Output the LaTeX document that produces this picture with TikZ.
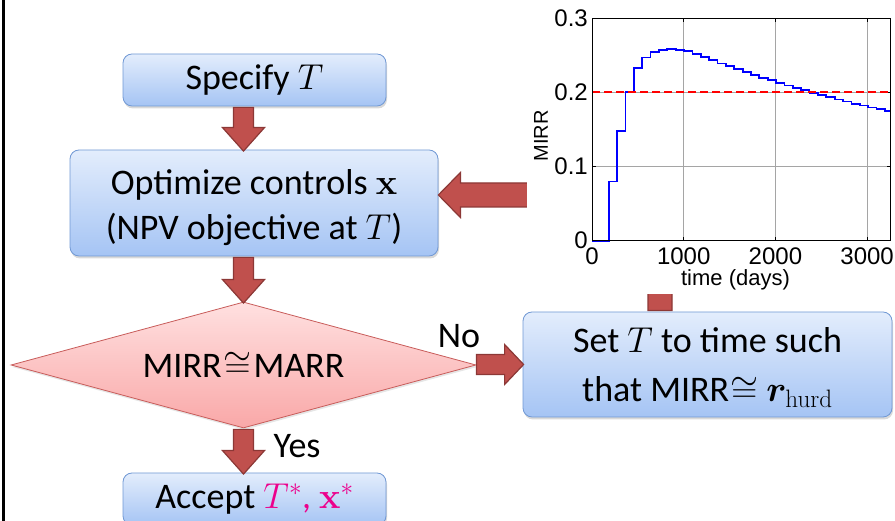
\RequirePackage{fix-cm}
\documentclass[tikz,border=0pt]{standalone}
\usepackage{amsmath,amssymb,bm}
\usepackage[no-math]{fontspec}
\setmainfont{Carlito}
\newfontfamily\plotfont{Liberation Sans}
\usetikzlibrary{shapes.geometric,shadows,calc}

\definecolor{boxtop}{RGB}{227,237,252}
\definecolor{boxbot}{RGB}{165,196,244}
\definecolor{boxline}{RGB}{112,152,212}
\definecolor{dtop}{RGB}{255,224,224}
\definecolor{dbot}{RGB}{249,168,168}
\definecolor{dline}{RGB}{200,92,90}
\definecolor{arrfill}{RGB}{192,80,77}
\definecolor{arrline}{RGB}{140,56,54}
\definecolor{gridgray}{RGB}{165,165,165}

\newcommand\vbarrow[3]{%
  \draw[blockarrow] let \p1=#1, \p2=#2, \p3=#3 in
    (\x3-10pt,\y1-1pt) -- (\x3-10pt,\y2+22pt) -- (\x3-21pt,\y2+22pt) --
    (\x3,\y2-1.5pt) -- (\x3+21pt,\y2+22pt) -- (\x3+10pt,\y2+22pt) --
    (\x3+10pt,\y1-1pt) -- cycle;}
\newcommand\twolines[3]{\raisebox{#1}[\height][\depth]{\begin{tabular}{@{}c@{}}#2\end{tabular}}}

\begin{document}
\begin{tikzpicture}[x=1pt,y=1pt,
  bigtext/.style={font=\fontsize{36}{45}\selectfont},
  flowbox/.style={bigtext, draw=boxline, line width=0.8pt, rounded corners=9pt,
    top color=boxtop, bottom color=boxbot, align=center, inner sep=0pt,
    drop shadow={opacity=0.3, shadow xshift=1pt, shadow yshift=-2.5pt}},
  decision/.style={bigtext, diamond, draw=dline, line width=0.8pt,
    top color=dtop, bottom color=dbot, inner sep=0pt, aspect=3.69,
    drop shadow={opacity=0.2, shadow xshift=1pt, shadow yshift=-2pt}},
  blockarrow/.style={fill=arrfill, draw=arrline, line width=1.2pt, line join=miter},
  lbl/.style={bigtext, inner sep=0pt},
  gridline/.style={draw=gridgray, line width=0.7pt},
  ticklbl/.style={font=\plotfont\fontsize{24}{28}\selectfont, inner sep=0pt},
]
\useasboundingbox (0,0) rectangle (895,521);

% left frame line
\draw[line width=3.3pt] (3.7,0) -- (3.7,521);

% flow nodes
\node[flowbox, minimum width=263, minimum height=52] (spec) at (254.5,441) {Specify $T$};
\node[flowbox, minimum width=368, minimum height=106] (opt) at (254,318)
  {\twolines{-5pt}{Optimize controls $\mathbf{x}$\\(NPV objective at $T$)}{}};
\node[decision, minimum width=465, minimum height=126] (dec) at (243.5,156) {MIRR\kern2pt$\cong$\kern2pt MARR};
\node[flowbox, minimum width=369, minimum height=105] (set) at (707.5,156.5)
  {\twolines{-4pt}{Set $T$ to time such\\[4pt]that MIRR\kern1pt$\cong$\ $\bm{r}_{\mathrm{hurd}}$}{}};
\node[flowbox, minimum width=263, minimum height=52] (acc) at (254.5,22)
  {Accept \textcolor{magenta}{$T^{*}$, $\mathbf{x}^{*}$}};

\node[lbl] (no) at (459,185) {No};
\node[lbl] (yes) at (297,75) {Yes};

% chart area corner
\coordinate (chartsw) at (527,227);

% vertical block arrows
\vbarrow{(spec.south)}{(opt.north)}{(dec.north)}
\vbarrow{(opt.south)}{(dec.north)}{(dec.north)}
\vbarrow{(dec.south)}{(acc.north)}{(dec.north)}

% No arrow (to the right)
\draw[blockarrow] let \p1=(dec.east), \p2=(set.west) in
  (\x1,\y2+10pt) -- (\x2-18pt,\y2+10pt) -- (\x2-18pt,\y2+20pt) -- (\x2+1pt,\y2) --
  (\x2-18pt,\y2-20pt) -- (\x2-18pt,\y2-10pt) -- (\x1,\y2-10pt) -- cycle;

% arrow from chart back into optimize box (left)
\draw[blockarrow] let \p1=(chartsw), \p2=(opt.east) in
  (\x1+20pt,\y2+20pt) -- (\x2+22pt,\y2+20pt) -- (\x2+22pt,\y2+30.5pt) -- (\x2,\y2+8pt) --
  (\x2+22pt,\y2-14.5pt) -- (\x2+22pt,\y2-4pt) -- (\x1+20pt,\y2-4pt) -- cycle;

% arrow from set box up to chart
\draw[blockarrow] let \p1=(set.north), \p2=(chartsw) in
  (\x1-59.5pt,\y1+1pt) -- (\x1-59.5pt,\y2+40pt) -- (\x1-71.5pt,\y2+40pt) -- (\x1-47.5pt,\y2+62pt) --
  (\x1-23.5pt,\y2+40pt) -- (\x1-35.5pt,\y2+40pt) -- (\x1-35.5pt,\y1+1pt) -- cycle;

% chart (white picture covering arrow ends)
\node[fill=white, inner sep=0pt, minimum width=368, minimum height=294, anchor=south west] (chart) at (chartsw) {};

\begin{scope}[shift={(592,280)}, x=0.0917pt, y=743pt]
  \foreach \t in {1000,2000,3000} \draw[gridline] (\t,0) -- (\t,0.3);
  \foreach \v in {0.1,0.2} \draw[gridline] (0,\v) -- (3260,\v);
  \foreach \t in {0,1000,2000,3000} {
    \draw[line width=0.8pt] (\t,0) -- ++(0,4pt);
    \draw[line width=0.8pt] (\t,0.3) -- ++(0,-4pt);
    \node[ticklbl, anchor=north] at ([yshift=-7pt]\t,0) {\t};
  }
  \foreach \v in {0.1,0.2} {
    \draw[line width=0.8pt] (0,\v) -- ++(4pt,0);
    \draw[line width=0.8pt] (3260,\v) -- ++(-4pt,0);
  }
  \node[ticklbl, anchor=east] at ([xshift=-4pt,yshift=1pt]0,0) {0};
  \node[ticklbl, anchor=east] at ([xshift=-4pt]0,0.1) {0.1};
  \node[ticklbl, anchor=east] at ([xshift=-4pt]0,0.2) {0.2};
  \node[ticklbl, anchor=east] at ([xshift=-4pt]0,0.3) {0.3};
  \draw[blue, line width=1.8pt, line join=miter] plot[const plot] coordinates {
    (0,0) (182.5,0.08) (273.75,0.148) (365,0.2) (456.25,0.233) (547.5,0.247)
    (638.75,0.254) (730,0.257) (821.25,0.258) (912.5,0.257) (1003.75,0.2558)
    (1095,0.2515) (1186.25,0.2472) (1277.5,0.2431) (1368.75,0.2390) (1460,0.2350)
    (1551.25,0.2311) (1642.5,0.2272) (1733.75,0.2235) (1825,0.2198) (1916.25,0.2162)
    (2007.5,0.2127) (2098.75,0.2093) (2190,0.2060) (2281.25,0.2027) (2372.5,0.1995)
    (2463.75,0.1965) (2555,0.1935) (2646.25,0.1905) (2737.5,0.1877) (2828.75,0.1849)
    (2920,0.1823) (3011.25,0.1797) (3102.5,0.1772) (3193.75,0.1748) (3260,0.1748)};
  \draw[red, line width=1.8pt, dash pattern=on 8pt off 4pt] (0,0.2) -- (3260,0.2);
  \draw[line width=1pt] (0,0) rectangle (3260,0.3);
\end{scope}
\node[font=\plotfont\fontsize{22}{26}\selectfont, inner sep=0pt] (xlab) at (735.5,241.5) {time (days)};
\node[font=\plotfont\fontsize{20}{24}\selectfont, inner sep=0pt, rotate=90] (ylab) at (541,385) {MIRR};
\end{tikzpicture}
\end{document}
